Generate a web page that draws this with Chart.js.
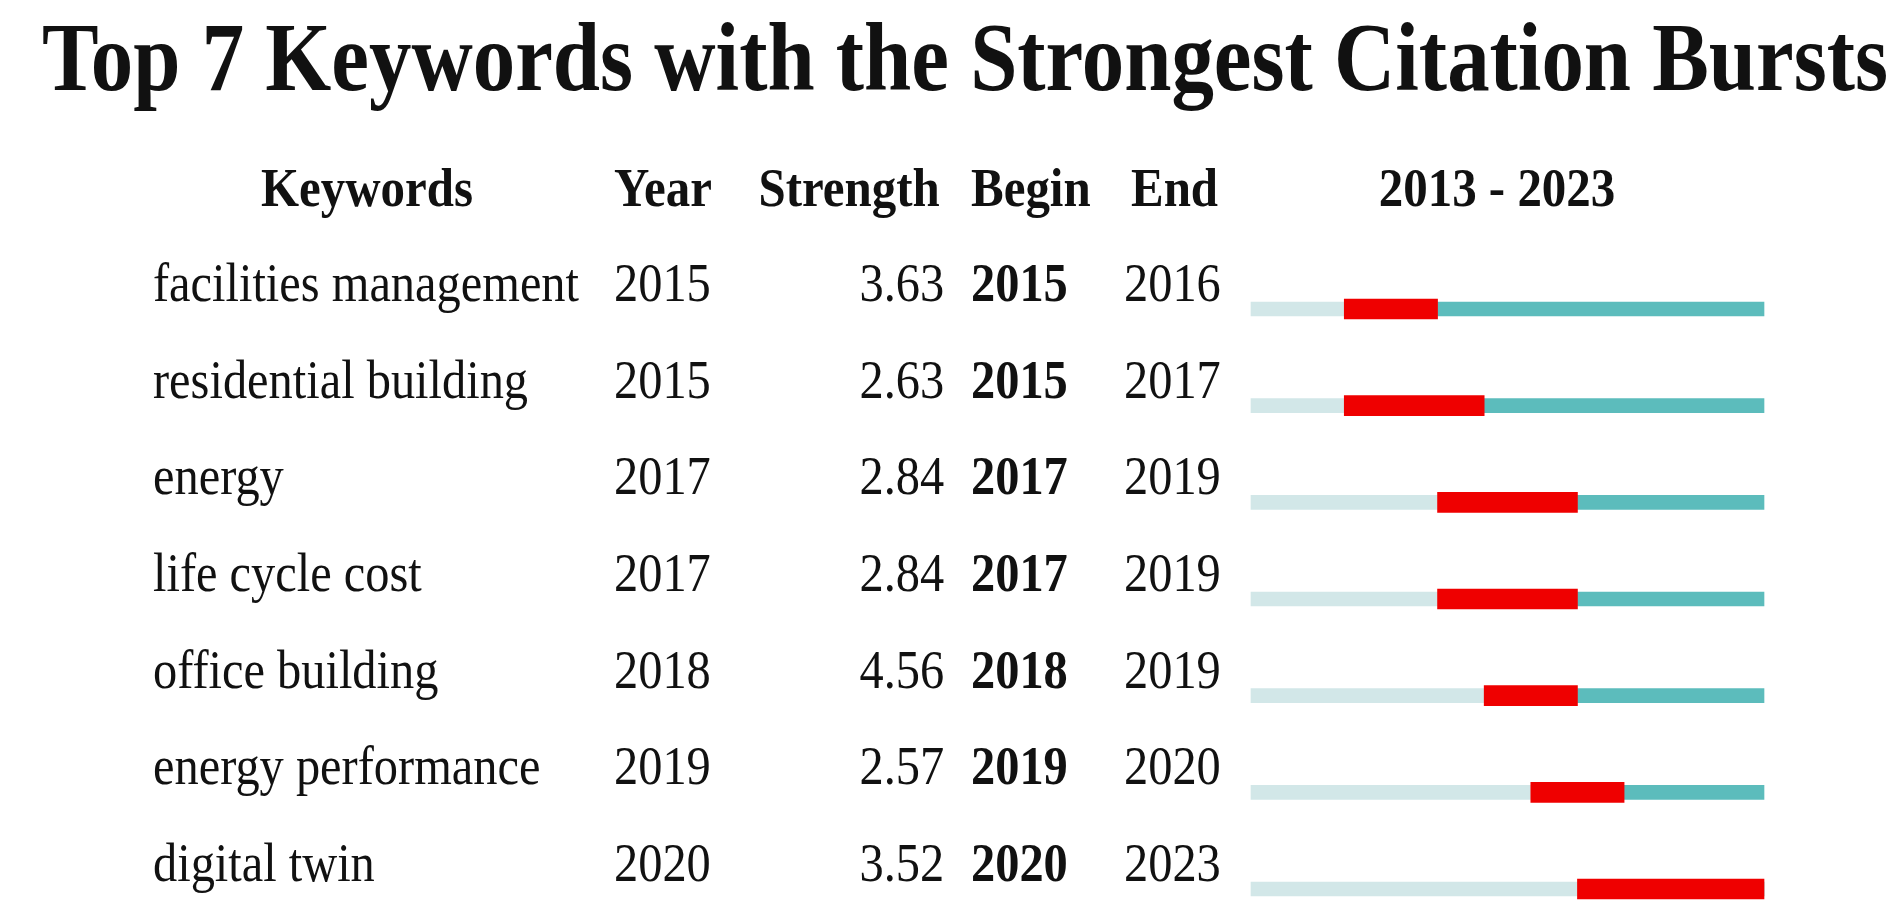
<!DOCTYPE html>
<html>
<head>
<meta charset="utf-8">
<script src="https://cdn.jsdelivr.net/npm/chart.js@4.4.0/dist/chart.umd.min.js"></script>
<style>
html,body{margin:0;padding:0;background:#fff;width:1901px;height:914px;overflow:hidden}
#wrap{position:relative;width:1901px;height:914px}
#c{position:absolute;left:0;top:0}
.t{position:absolute;white-space:nowrap;font-family:"Liberation Serif","Times New Roman",serif;color:#111;line-height:1}
.b{font-weight:bold}
</style>
</head>
<body>
<div id="wrap"><canvas id="c" width="1901" height="914"></canvas></div>
<script>
const keywords=["facilities management","residential building","energy","life cycle cost","office building","energy performance","digital twin"];
const years=[2015,2015,2017,2017,2018,2019,2020];
const strengths=[3.63,2.63,2.84,2.84,4.56,2.57,3.52];
const begins=[2015,2015,2017,2017,2018,2019,2020];
const ends=[2016,2017,2019,2019,2019,2020,2023];
const FIRST=2013, LAST=2023;

const wrap=document.getElementById('wrap');
function txt(s,x,base,size,opt){
  opt=opt||{};
  const e=document.createElement('span');
  e.className='t'+(opt.bold?' b':'');
  e.textContent=s;
  e.style.fontSize=size+'px';
  e.style.top=(base-0.8375*size)+'px';
  const sx=opt.sx||0.88;
  if(opt.align=='right'){e.style.right=(1901-x)+'px';e.style.transformOrigin='right';e.style.transform='scaleX('+sx+')';}
  else if(opt.align=='center'){e.style.left=x+'px';e.style.transform='translateX(-50%) scaleX('+sx+')';}
  else{e.style.left=x+'px';e.style.transformOrigin='left';e.style.transform='scaleX('+sx+')';}
  wrap.appendChild(e);
}

const chart=new Chart(document.getElementById('c'),{
  type:'bar',
  data:{labels:keywords,datasets:[
    {label:'burst',data:begins.map((b,i)=>[b,ends[i]+1]),backgroundColor:'#ef0000',barThickness:20,clip:false,order:0},
    {label:'before',data:begins.map(b=>[FIRST,b]),backgroundColor:'#d2e7e8',barThickness:14,clip:false,order:1},
    {label:'after',data:ends.map(e=>[e+1,LAST+1]),backgroundColor:'#5cbcbc',barThickness:14,clip:false,order:1}
  ]},
  options:{
    indexAxis:'y',responsive:false,animation:false,
    layout:{padding:{left:1251,right:137,top:309,bottom:25}},
    plugins:{legend:{display:false},tooltip:{enabled:false}},
    datasets:{bar:{grouped:false}},
    scales:{
      x:{type:'linear',min:FIRST,max:LAST+1,display:false},
      y:{type:'category',offset:false,display:false,grid:{display:false}}
    }
  }
});

// title and header
txt('Top 7 Keywords with the Strongest Citation Bursts',42,90,98,{bold:true,sx:0.866});
const hb=206;
txt('Keywords',367,hb,55,{bold:true,align:'center',sx:0.89});
txt('Year',614,hb,55,{bold:true,sx:0.89});
txt('Strength',940,hb,55,{bold:true,align:'right',sx:0.89});
txt('Begin',971,hb,55,{bold:true,sx:0.89});
txt('End',1131,hb,55,{bold:true,sx:0.89});
txt(FIRST+' - '+LAST,1497,hb,55,{bold:true,align:'center',sx:0.89});

// rows follow the chart's y scale
const ys=chart.scales.y;
keywords.forEach((k,i)=>{
  const base=ys.getPixelForValue(i)-8;
  txt(k,153,base,55);
  txt(String(years[i]),614,base,55);
  txt(strengths[i].toFixed(2),944,base,55,{align:'right'});
  txt(String(begins[i]),971,base,55,{bold:true});
  txt(String(ends[i]),1124,base,55);
});
</script>
</body>
</html>
